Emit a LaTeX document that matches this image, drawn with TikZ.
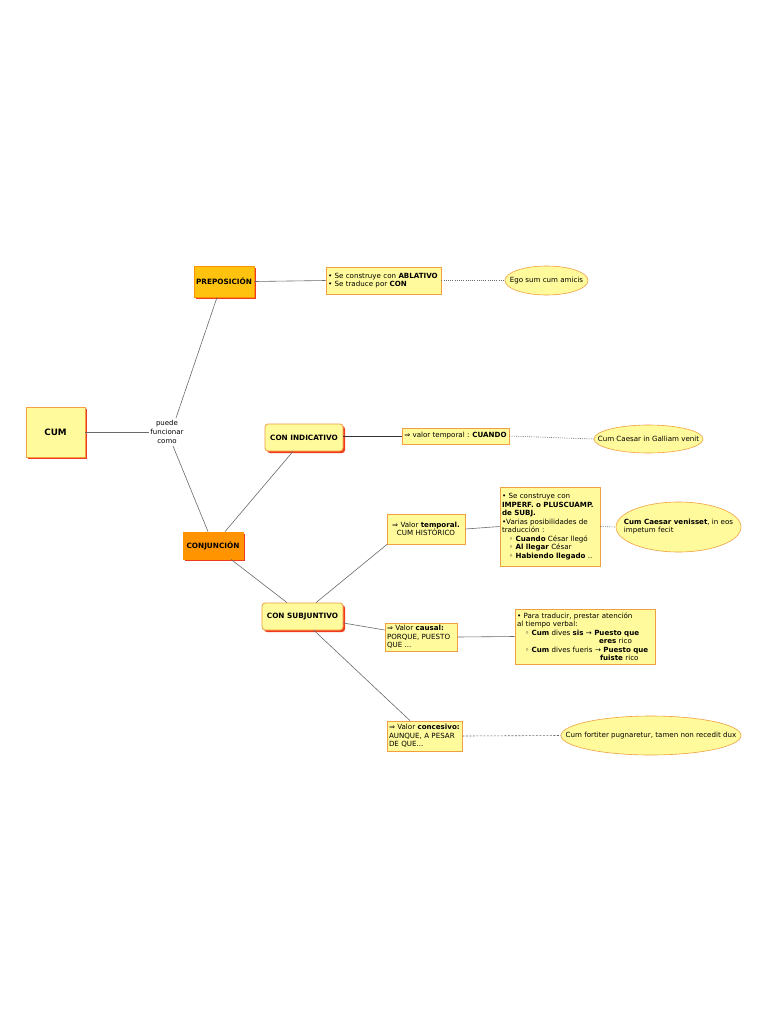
\documentclass[tikz,border=0pt]{standalone}
\usepackage{fontspec}
\setmainfont{DejaVu Sans}
\usetikzlibrary{shapes.geometric,shadows}
\definecolor{lyel}{HTML}{FFFA9C}
\definecolor{bord}{HTML}{F0A040}
\definecolor{shred}{HTML}{EE3A1E}
\definecolor{gold}{HTML}{FFC20E}
\definecolor{darkor}{HTML}{FF9400}
\definecolor{edge}{HTML}{6A6A6A}
\tikzset{
  fs/.style={font=\fontsize{7.1}{8.5}\selectfont},
  mainbox/.style={draw=bord,line width=0.8pt,fill=lyel,drop shadow={fill=shred,shadow xshift=2pt,shadow yshift=-2pt,opacity=1},font=\fontsize{7.3}{9}\selectfont\bfseries,inner sep=1pt},
  roundbox/.style={mainbox,rounded corners=3pt},
  txtbox/.style={draw=bord,line width=0.8pt,fill=lyel,fs,align=left,inner sep=2pt,anchor=center},
  oval/.style={ellipse,draw=bord,line width=0.6pt,fill=lyel,fs,inner sep=0pt},
  conn/.style={draw=edge,line width=0.6pt},
  dotc/.style={draw=edge,line width=0.6pt,dash pattern=on 1pt off 1.2pt},
}
\begin{document}
\begin{tikzpicture}[x=1pt,y=-1pt]
\path[use as bounding box,fill=white] (0,0) rectangle (768,1022);

% main nodes
\node[mainbox,minimum width=59pt,minimum height=50pt,font=\fontsize{8.8}{10}\selectfont\bfseries] (cum) at (55.5,432) {CUM};
\node[align=center,font=\fontsize{7}{9}\selectfont,inner sep=1pt] (puede) at (167,432) {puede\\funcionar\\como};
\node[mainbox,draw=darkor,fill=gold,minimum width=60pt,minimum height=31pt] (prep) at (224,281.5) {PREPOSICIÓN};
\node[mainbox,draw=darkor,fill=darkor,minimum width=60pt,minimum height=27pt] (conj) at (213,545.5) {CONJUNCIÓN};
\node[roundbox,minimum width=78pt,minimum height=27pt] (ind) at (304,437.5) {CON INDICATIVO};
\node[roundbox,minimum width=81pt,minimum height=27pt] (sub) at (302.5,616.5) {CON SUBJUNTIVO};

% text boxes
\node[txtbox,text width=111pt,minimum height=27pt] (b1) at (383.5,280.5) {• Se construye con \textbf{ABLATIVO}\\• Se traduce por \textbf{CON}};
\node[txtbox,minimum width=107pt,minimum height=16pt,inner sep=1pt] (b2) at (455.5,436) {⇒ valor temporal : \textbf{CUANDO}};
\node[txtbox,align=center,text width=74pt,minimum height=30pt] (b3) at (426,529) {⇒ Valor \textbf{temporal.}\\CUM HISTÓRICO};
\node[txtbox,text width=96pt,minimum height=79pt] (b4) at (550,526.5) {• Se construye con\\\textbf{IMPERF. o PLUSCUAMP.}\\\textbf{de SUBJ.}\\•Varias posibilidades de\\traducción :\\\hspace*{7pt}◦ \textbf{Cuando} César llegó\\\hspace*{7pt}◦ \textbf{Al llegar} César\\\hspace*{7pt}◦ \textbf{Habiendo llegado} ..};
\node[txtbox,text width=68pt,minimum height=28pt] (b5) at (421,637) {⇒ Valor \textbf{causal:}\\PORQUE, PUESTO\\QUE ...};
\node[txtbox,text width=136pt,minimum height=55pt] (b6) at (585,636.5) {• Para traducir, prestar atención\\al tiempo verbal:\\
\hspace*{8pt}◦ \textbf{Cum} dives \textbf{sis} → \textbf{Puesto que}\\
\hspace*{82pt}\textbf{eres} rico\\
\hspace*{8pt}◦ \textbf{Cum} dives fueris → \textbf{Puesto que}\\
\hspace*{83pt}\textbf{fuiste} rico};
\node[txtbox,text width=71pt,minimum height=30pt] (b7) at (424.5,736) {⇒ Valor \textbf{concesivo:}\\AUNQUE, A PESAR\\DE QUE...};

% ellipses
\node[oval,minimum width=83pt,minimum height=29pt] (e1) at (546.5,280.5) {\makebox[0pt]{Ego sum cum amicis}};
\node[oval,minimum width=109pt,minimum height=28pt] (e2) at (648.5,439) {\makebox[0pt]{Cum Caesar in Galliam venit}};
\node[oval,minimum width=125pt,minimum height=50pt] (e3) at (678.5,527) {\makebox[0pt]{\begin{tabular}{@{}l@{}}\textbf{Cum Caesar venisset}, in eos\\impetum fecit\end{tabular}}};
\node[oval,minimum width=180pt,minimum height=39pt] (e4) at (651,735.5) {\makebox[0pt]{Cum fortiter pugnaretur, tamen non recedit dux}};

% connectors
\draw[conn] (cum.east) -- (puede.west);
\draw[conn] (176,418) -- (prep.south -| 217,0);
\draw[conn] (173,446) -- (conj.north -| 208,0);
\draw[conn] (prep.east) -- (b1.west);
\draw[dotc] (b1.east) -- (e1.west);
\draw[conn] (conj.north -| 225,0) -- (ind.south -| 293,0);
\draw[draw=black!80,line width=1pt] (ind.east |- b2.west) -- (b2.west);
\draw[dotc] (b2.east) -- (e2.west);
\draw[conn] (conj.south -| 231,0) -- (sub.north -| 287,0);
\draw[conn] (sub.north -| 316,0) -- (b3.south -| 387,0);
\draw[conn] (b3.east) -- (b4.west);
\draw[dotc] (b4.east) -- (e3.west);
\draw[conn] (sub.east |- 0,623) -- (b5.west |- 0,630);
\draw[conn] (b5.east) -- (b6.west);
\draw[conn] (sub.south -| 314,0) -- (b7.north -| 410,0);
\draw[draw=edge,line width=0.6pt,dash pattern=on 2pt off 1.5pt] (b7.east) -- (e4.west);
\end{tikzpicture}
\end{document}
